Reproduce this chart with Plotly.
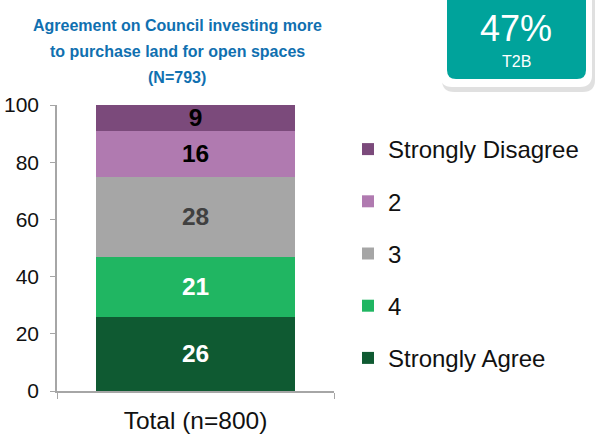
import plotly.graph_objects as go

categories = ["Total (n=800)"]
series_names = ["Strongly Agree", "4", "3", "2", "Strongly Disagree"]
series_values = [[26], [21], [28], [16], [9]]
series_colors = ["#0F5A32", "#20B662", "#A6A6A6", "#B07AB0", "#7B4A7B"]
label_colors = ["#FFFFFF", "#FFFFFF", "#404040", "#000000", "#000000"]
y_ticks = [0, 20, 40, 60, 80, 100]
title_lines = ["Agreement on Council investing more", "to purchase land for open spaces", "(N=793)"]
t2b_value = "47%"
t2b_label = "T2B"

FONT = "Liberation Sans, Arial, sans-serif"

# plot-area pixel geometry
L, R, T, B = 57, 334, 105, 391
W, H = 597, 439


def px_x(px):
    return (px - L) / (R - L)


def px_y(py):
    return (B - py) / (B - T)


fig = go.Figure()
n = len(series_names)
for i, (name, vals) in enumerate(zip(series_names, series_values)):
    fig.add_trace(go.Bar(
        x=categories, y=vals, name=name,
        marker=dict(color=series_colors[i], line=dict(width=0)),
        text=vals, texttemplate="%{y}", textposition="inside",
        insidetextanchor="middle", constraintext="none", textangle=0,
        textfont=dict(family=FONT, size=24.5, color=label_colors[i], weight="bold"),
        legendgroup=name, legendrank=n - i, width=0.72,
    ))

fig.update_layout(
    width=W, height=H,
    margin=dict(l=L, r=W - R, t=T, b=H - B, autoexpand=False),
    barmode="stack",
    plot_bgcolor="white", paper_bgcolor="white",
    font=dict(family=FONT, color="#000000"),
    showlegend=True,
    legend=dict(
        traceorder="grouped", tracegroupgap=18,
        x=px_x(348), xanchor="left", xref="paper",
        y=px_y(127), yanchor="top",
        font=dict(family=FONT, size=24, color="#111111"),
        itemwidth=30, bgcolor="rgba(0,0,0,0)",
    ),
    xaxis=dict(
        showline=True, linecolor="#A6A6A6", linewidth=1.5,
        ticks="outside", ticklen=6, tickcolor="#A6A6A6", tickson="boundaries",
        tickfont=dict(family=FONT, size=24.5, color="#111111"),
        ticklabelstandoff=7,
        showgrid=False, automargin=False,
    ),
    yaxis=dict(
        range=[0, 100], tickvals=y_ticks,
        showline=True, linecolor="#A6A6A6", linewidth=1.5,
        ticks="outside", ticklen=5, tickcolor="#A6A6A6",
        tickfont=dict(family=FONT, size=21, color="#111111"),
        ticklabelstandoff=7,
        showgrid=False, zeroline=False, automargin=False,
    ),
)

for line, yc in zip(title_lines, [26, 52, 77]):
    fig.add_annotation(
        text=line, xref="paper", yref="paper",
        x=px_x(177), y=px_y(yc), xanchor="center", yanchor="middle",
        showarrow=False,
        font=dict(family=FONT, size=16, color="#1070B0", weight="bold"),
    )


def rounded_rect(x0, y0, x1, y1, r):
    return (f"M {px_x(x0 + r)} {px_y(y0)} L {px_x(x1 - r)} {px_y(y0)} "
            f"Q {px_x(x1)} {px_y(y0)} {px_x(x1)} {px_y(y0 + r)} "
            f"L {px_x(x1)} {px_y(y1 - r)} Q {px_x(x1)} {px_y(y1)} {px_x(x1 - r)} {px_y(y1)} "
            f"L {px_x(x0 + r)} {px_y(y1)} Q {px_x(x0)} {px_y(y1)} {px_x(x0)} {px_y(y1 - r)} "
            f"L {px_x(x0)} {px_y(y0 + r)} Q {px_x(x0)} {px_y(y0)} {px_x(x0 + r)} {px_y(y0)} Z")


fig.add_shape(type="path", xref="paper", yref="paper",
              path=rounded_rect(442, -10, 595, 92, 12),
              fillcolor="rgba(0,0,0,0.12)", line=dict(width=0), layer="above")
fig.add_shape(type="path", xref="paper", yref="paper",
              path=rounded_rect(440, -12, 592, 87, 12),
              fillcolor="white", line=dict(width=0), layer="above")
fig.add_shape(type="path", xref="paper", yref="paper",
              path=rounded_rect(447, -10, 586, 79, 9),
              fillcolor="#00A39B", line=dict(width=0), layer="above")

fig.add_annotation(text=t2b_value, xref="paper", yref="paper",
                   x=px_x(516), y=px_y(29), showarrow=False,
                   xanchor="center", yanchor="middle",
                   font=dict(family=FONT, size=36, color="white"))
fig.add_annotation(text=t2b_label, xref="paper", yref="paper",
                   x=px_x(516), y=px_y(62), showarrow=False,
                   xanchor="center", yanchor="middle",
                   font=dict(family=FONT, size=16, color="white"))

fig.write_html(
    "out.html",
    config={"displayModeBar": False},
    post_script="document.body.style.margin='0';document.body.style.overflow='hidden';",
)
